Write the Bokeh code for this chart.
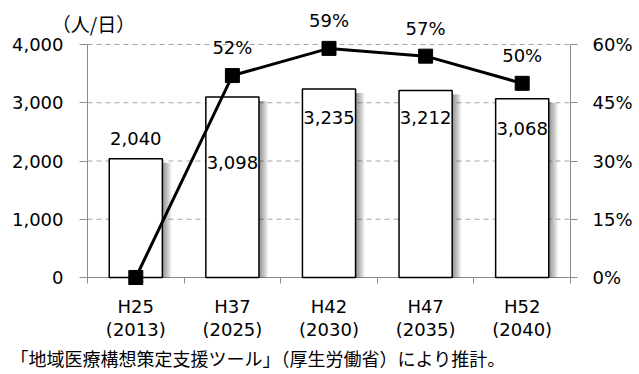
from bokeh.plotting import figure
from bokeh.models import Range1d, LinearAxis, FixedTicker, NumeralTickFormatter, ColumnDataSource
from bokeh.core.properties import value
from bokeh.embed import file_html
from bokeh.resources import INLINE

# --- data -----------------------------------------------------------------
categories = ["H25\n(2013)", "H37\n(2025)", "H42\n(2030)", "H47\n(2035)", "H52\n(2040)"]
patients = [2040, 3098, 3235, 3212, 3068]          # 人/日 (bars, left axis)
ratio = [0.0, 0.52, 0.59, 0.57, 0.50]              # line, right axis
ratio_labels = ["", "52%", "59%", "57%", "50%"]
left_ticks = [0, 1000, 2000, 3000, 4000]
right_ticks = [0, 0.15, 0.30, 0.45, 0.60]
unit_label = "（人/日）"
note = "「地域医療構想策定支援ツール」（厚生労働省）により推計。"

# --- layout ---------------------------------------------------------------
W, H = 639, 374
L, R, T, B = 87, 570, 44, 277          # axis box edges in pixels
NUM_FONT = "DejaVu Sans"
JP_FONT = "Noto Sans CJK JP"
AXIS_GREY = "#8c8c8c"
GRID_GREY = "#a6a6a6"

n = len(categories)
xc = [i + 0.5 for i in range(n)]
bar_w = 0.55

# the frame fills the whole canvas; axes sit at fixed data locations
sx = (R - L) / n
x0, x1 = -L / sx, n + (W - R) / sx
sy = (B - T) / left_ticks[-1]
y0, y1 = -(H - B) / sy, left_ticks[-1] + T / sy
sp = (B - T) / right_ticks[-1]
p0, p1 = -(H - B) / sp, right_ticks[-1] + T / sp


def px_x(px):
    return x0 + px / sx


def px_y(py):
    return y1 - py / sy


p = figure(width=W, height=H, x_range=Range1d(x0, x1), y_range=Range1d(y0, y1),
           output_backend="svg", toolbar_location=None,
           x_axis_location=None, y_axis_location=None,
           min_border=0)
p.extra_y_ranges = {"pct": Range1d(p0, p1)}
p.outline_line_color = None
p.background_fill_color = "white"
p.border_fill_color = "white"
p.xgrid.visible = False
p.ygrid.visible = False

# left axis
ya = LinearAxis(fixed_location=0, bounds=(left_ticks[0], left_ticks[-1]),
                ticker=FixedTicker(ticks=left_ticks),
                formatter=NumeralTickFormatter(format="0,0"))
ya.axis_line_color = AXIS_GREY
ya.major_tick_line_color = AXIS_GREY
ya.major_tick_in = 0
ya.major_tick_out = 8
ya.minor_tick_line_color = None
ya.major_label_standoff = 16
ya.major_label_text_font = NUM_FONT
ya.major_label_text_font_size = "18px"
ya.major_label_text_color = "black"
ya.level = "underlay"
p.add_layout(ya, "left")

# right axis
ra = LinearAxis(y_range_name="pct", fixed_location=n,
                bounds=(right_ticks[0], right_ticks[-1]),
                ticker=FixedTicker(ticks=right_ticks),
                formatter=NumeralTickFormatter(format="0%"))
ra.axis_line_color = AXIS_GREY
ra.major_tick_line_color = AXIS_GREY
ra.major_tick_in = 0
ra.major_tick_out = 7
ra.minor_tick_line_color = None
ra.major_label_standoff = 15
ra.major_label_text_font = NUM_FONT
ra.major_label_text_font_size = "18px"
ra.major_label_text_color = "black"
ra.level = "underlay"
p.add_layout(ra, "right")

# bottom axis: labels at category centres, tick marks at category boundaries
xa = LinearAxis(fixed_location=0, bounds=(0, n),
                ticker=FixedTicker(ticks=xc, minor_ticks=list(range(n + 1))))
xa.major_label_overrides = {x: c for x, c in zip(xc, categories)}
xa.axis_line_color = AXIS_GREY
xa.major_tick_line_color = None
xa.minor_tick_line_color = AXIS_GREY
xa.minor_tick_in = 0
xa.minor_tick_out = 6
xa.major_label_standoff = 12
xa.major_label_text_font = NUM_FONT
xa.major_label_text_font_size = "18px"
xa.major_label_text_line_height = 1.1
xa.major_label_text_color = "black"
xa.level = "underlay"
p.add_layout(xa, "below")

# dashed horizontal grid between the two value axes
grid_vals = left_ticks[1:]
p.segment(x0=[0] * len(grid_vals), x1=[n] * len(grid_vals), y0=grid_vals, y1=grid_vals,
          line_color=GRID_GREY, line_width=1, line_dash="5 4", level="underlay")

# soft shadow on the right side of each bar
for k in range(1, 10):
    p.vbar(x=[c + k / sx for c in xc], width=bar_w,
           top=[v - 4 / sy for v in patients], bottom=0,
           fill_color="black", fill_alpha=0.055, line_color=None)

# bars
p.vbar(x=xc, width=bar_w, top=patients, bottom=0,
       fill_color="white", line_color="black", line_width=1.5)

# bar value labels (pixel offsets from the bar top)
bar_offsets = [-20, 65, 28, 27, 30]
bar_src = ColumnDataSource(dict(x=xc, y=patients,
                                label=[f"{v:,}" for v in patients],
                                off=bar_offsets))
p.text(x="x", y="y", text="label", y_offset="off", source=bar_src,
       text_align="center", text_baseline="middle",
       text_font=value(NUM_FONT), text_font_size="18px", text_color="black")

# ratio line
p.line(x=xc, y=ratio, y_range_name="pct", line_color="black", line_width=3)
p.scatter(x=xc, y=ratio, y_range_name="pct", marker="square", size=14,
          fill_color="black", line_color="black")
pct_src = ColumnDataSource(dict(x=xc, y=ratio, label=ratio_labels))
p.text(x="x", y="y", text="label", y_offset=-28, source=pct_src, y_range_name="pct",
       text_align="center", text_baseline="middle",
       text_font=value(NUM_FONT), text_font_size="18px", text_color="black")

# unit caption and source note
p.text(x=[px_x(93)], y=[px_y(22.5)], text=[unit_label],
       text_align="center", text_baseline="middle",
       text_font=value(JP_FONT), text_font_size="19px", text_color="black")
p.text(x=[px_x(10)], y=[px_y(357)], text=[note],
       text_align="left", text_baseline="middle",
       text_font=value(JP_FONT), text_font_size="18px", text_color="black")

open("out.html", "w").write(file_html(p, INLINE))
